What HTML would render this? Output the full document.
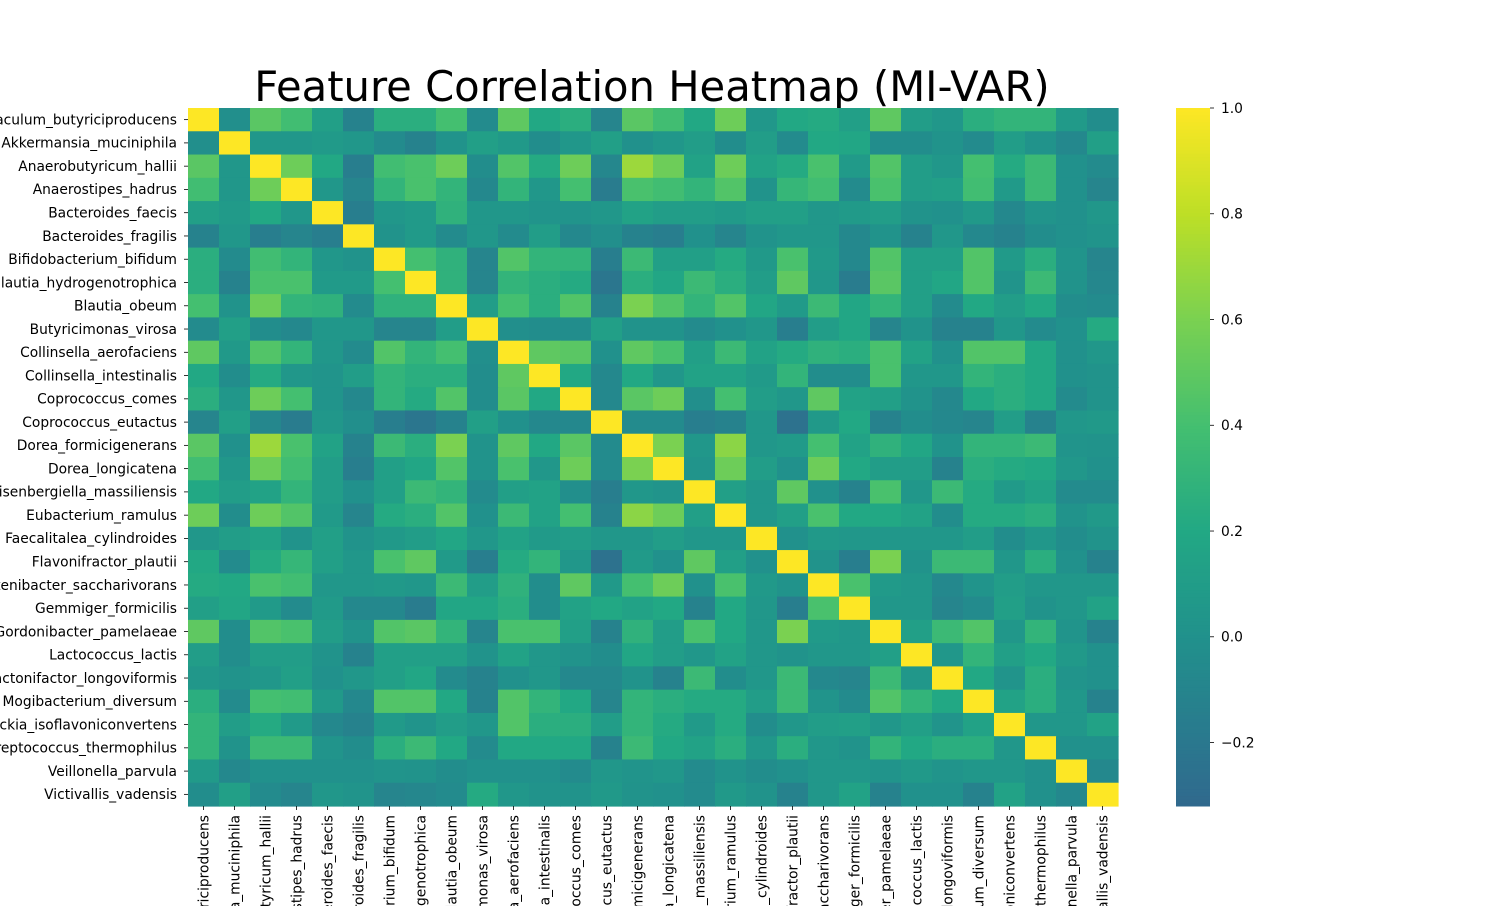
<!DOCTYPE html>
<html><head><meta charset="utf-8"><style>
html,body{margin:0;padding:0;background:#fff;width:1500px;height:906px;overflow:hidden;}
svg{display:block;font-family:"DejaVu Sans","Liberation Sans",sans-serif;}
</style></head><body>
<svg id="chart" width="1500" height="906" viewBox="0 0 1500 906" xmlns="http://www.w3.org/2000/svg" overflow="hidden">
<text x="652" y="101" font-size="41.7" text-anchor="middle" fill="#000">Feature Correlation Heatmap (MI-VAR)</text>
<g id="cells"></g>
<g id="ylabels"></g>
<g id="xlabels"></g>
<g id="cbar"></g>
</svg>
<script>
const features = ["Agathobaculum_butyriciproducens","Akkermansia_muciniphila","Anaerobutyricum_hallii","Anaerostipes_hadrus","Bacteroides_faecis","Bacteroides_fragilis","Bifidobacterium_bifidum","Blautia_hydrogenotrophica","Blautia_obeum","Butyricimonas_virosa","Collinsella_aerofaciens","Collinsella_intestinalis","Coprococcus_comes","Coprococcus_eutactus","Dorea_formicigenerans","Dorea_longicatena","Eisenbergiella_massiliensis","Eubacterium_ramulus","Faecalitalea_cylindroides","Flavonifractor_plautii","Fusicatenibacter_saccharivorans","Gemmiger_formicilis","Gordonibacter_pamelaeae","Lactococcus_lactis","Lactonifactor_longoviformis","Mogibacterium_diversum","Slackia_isoflavoniconvertens","Streptococcus_thermophilus","Veillonella_parvula","Victivallis_vadensis"];
// lower-triangle correlation values (row i, columns 0..i-1); diagonal = 1
const lowerTriangle = [
[],
[-0.02],
[0.48,0.05],
[0.38,0.05,0.55],
[0.12,0.08,0.2,0.05],
[-0.12,0.05,-0.15,-0.1,-0.15],
[0.25,-0.05,0.38,0.3,0.05,0.02],
[0.25,-0.12,0.42,0.42,0.08,0.08,0.4],
[0.4,0.02,0.55,0.3,0.28,-0.05,0.28,0.28],
[-0.05,0.12,-0.03,-0.07,0.05,0.05,-0.1,-0.1,0.1],
[0.5,0.07,0.45,0.3,0.05,-0.05,0.45,0.3,0.4,-0.02],
[0.2,-0.03,0.22,0.05,0.03,0.1,0.3,0.25,0.25,-0.03,0.5],
[0.25,0.05,0.55,0.4,0.03,-0.07,0.3,0.22,0.45,-0.03,0.48,0.2],
[-0.1,0.12,-0.08,-0.17,0.05,-0.02,-0.15,-0.22,-0.12,0.12,0.0,-0.07,-0.07],
[0.48,0.0,0.7,0.42,0.15,-0.12,0.35,0.25,0.6,0.02,0.5,0.2,0.48,-0.05],
[0.38,0.05,0.55,0.38,0.1,-0.15,0.12,0.18,0.45,0.02,0.42,0.05,0.55,-0.05,0.6],
[0.2,0.1,0.15,0.3,0.1,0.0,0.12,0.35,0.3,-0.05,0.12,0.15,-0.02,-0.15,0.05,0.03],
[0.55,-0.03,0.55,0.45,0.08,-0.1,0.22,0.25,0.45,0.0,0.35,0.15,0.4,-0.12,0.65,0.55,0.12],
[0.05,0.1,0.15,0.02,0.12,0.02,0.07,0.1,0.18,0.05,0.15,0.08,0.1,0.05,0.05,0.1,0.05,0.05],
[0.2,-0.05,0.22,0.32,0.12,0.05,0.42,0.5,0.08,-0.15,0.22,0.3,0.05,-0.25,0.08,0.0,0.5,0.12,0.0],
[0.22,0.2,0.42,0.38,0.05,0.05,0.07,0.05,0.35,0.1,0.28,-0.03,0.5,0.07,0.4,0.55,0.0,0.42,0.07,0.02],
[0.12,0.18,0.08,-0.05,0.08,-0.07,-0.07,-0.17,0.18,0.18,0.25,-0.03,0.15,0.2,0.15,0.2,-0.12,0.2,0.05,-0.15,0.42],
[0.5,-0.03,0.45,0.42,0.1,0.02,0.45,0.48,0.3,-0.1,0.42,0.42,0.12,-0.12,0.28,0.1,0.42,0.2,0.05,0.6,0.08,0.05],
[0.1,-0.03,0.1,0.1,0.02,-0.12,0.12,0.12,0.12,0.02,0.15,0.05,0.02,-0.03,0.18,0.1,0.05,0.15,0.05,0.02,0.05,0.05,0.12],
[0.05,0.02,0.05,0.12,0.0,0.05,0.12,0.18,-0.05,-0.12,0.0,0.05,-0.07,-0.07,0.02,-0.12,0.35,-0.03,0.05,0.35,-0.07,-0.1,0.35,0.05],
[0.25,-0.05,0.4,0.38,0.07,-0.07,0.45,0.45,0.2,-0.12,0.45,0.3,0.2,-0.1,0.3,0.25,0.22,0.22,0.1,0.35,0.03,-0.05,0.45,0.3,0.2],
[0.3,0.1,0.22,0.08,-0.07,-0.12,0.08,0.03,0.1,0.05,0.45,0.25,0.25,0.1,0.3,0.22,0.08,0.22,-0.03,0.05,0.1,0.12,0.05,0.12,0.03,0.15],
[0.3,0.02,0.35,0.35,0.03,-0.03,0.25,0.35,0.2,-0.05,0.2,0.2,0.2,-0.12,0.35,0.2,0.15,0.25,0.05,0.25,0.05,0.02,0.3,0.2,0.25,0.25,0.05],
[0.08,-0.07,0.0,0.0,0.0,0.0,0.03,0.02,-0.03,0.0,0.0,0.0,-0.05,0.05,0.03,0.05,-0.05,0.02,-0.03,0.0,0.05,0.05,0.03,0.07,0.03,0.05,0.05,0.0],
[-0.03,0.12,-0.05,-0.1,0.05,0.03,-0.1,-0.08,-0.05,0.22,0.05,0.02,0.02,0.07,0.02,0.0,-0.05,0.07,0.02,-0.12,0.05,0.15,-0.12,0.0,0.0,-0.12,0.15,0.0,-0.07]
];
const colorbarTicks = [1.0,0.8,0.6,0.4,0.2,0.0,-0.2];
const colorbarTickLabels = ["1.0","0.8","0.6","0.4","0.2","0.0","\u22120.2"];
const colorbarMin = -0.32, colorbarMax = 1.0;

const NS="http://www.w3.org/2000/svg";
const X0=188,Y0=108,W=930,H=698,N=features.length;
const cw=W/N, ch=H/N;
const xPos=j=>X0+j*cw, yPos=i=>Y0+i*ch;
const stops=["#440154","#482475","#414487","#355f8d","#2a788e","#21918c","#22a884","#44bf70","#7ad151","#bddf26","#fde725"];
function hex(h){return [1,3,5].map(k=>parseInt(h.substr(k,2),16));}
function viridis(v){let t=Math.max(0,Math.min(1,(v+1)/2))*10;let k=Math.min(9,Math.floor(t));let f=t-k;let a=hex(stops[k]),b=hex(stops[k+1]);return "rgb("+a.map((x,i)=>Math.round(x+(b[i]-x)*f)).join(",")+")";}
function val(i,j){if(i===j)return 1;return i>j?lowerTriangle[i][j]:lowerTriangle[j][i];}
function mk(tag,attrs,parent){const e=document.createElementNS(NS,tag);for(const k in attrs)e.setAttribute(k,attrs[k]);parent.appendChild(e);return e;}

const cells=document.getElementById('cells');
for(let i=0;i<N;i++)for(let j=0;j<N;j++){
  const r=mk('rect',{x:xPos(j),y:yPos(i),width:cw+0.6,height:ch+0.6,fill:viridis(val(i,j))},cells);
  
  
}
const yl=document.getElementById('ylabels'), xl=document.getElementById('xlabels');
features.forEach((f,i)=>{
  const cy=yPos(i)+ch/2;
  mk('line',{x1:184,x2:188,y1:cy,y2:cy,stroke:'#000','stroke-width':0.8},yl);
  const t=mk('text',{x:177,y:cy+4.8,'font-size':13.8,'text-anchor':'end',fill:'#000'},yl);
  t.textContent=f;
  
  
  const cx=xPos(i)+cw/2;
  mk('line',{x1:cx,x2:cx,y1:806,y2:810,stroke:'#000','stroke-width':0.8},xl);
  const tx=mk('text',{x:0,y:0,'font-size':13.8,'text-anchor':'end',fill:'#000',transform:`translate(${cx+4.8},815) rotate(-90)`},xl);
  tx.textContent=f;
  
  
});
const cb=document.getElementById('cbar');
const CBX=1176,CBW=34,CBT=108,CBB=806;
const cbY=v=>CBB-(v-colorbarMin)/(colorbarMax-colorbarMin)*(CBB-CBT);
for(let p=0;p<200;p++){
  const v0=colorbarMin+(colorbarMax-colorbarMin)*p/200, v1=colorbarMin+(colorbarMax-colorbarMin)*(p+1)/200;
  mk('rect',{x:CBX,y:cbY(v1),width:CBW,height:cbY(v0)-cbY(v1)+0.5,fill:viridis((v0+v1)/2)},cb);
}
colorbarTicks.forEach((v,k)=>{
  const y=cbY(v);
  mk('line',{x1:CBX+CBW,x2:CBX+CBW+4,y1:y,y2:y,stroke:'#000','stroke-width':0.8},cb);
  const t=mk('text',{x:CBX+CBW+11,y:y+4.8,'font-size':13.8,fill:'#000'},cb);
  t.textContent=colorbarTickLabels[k];
  
  
});
</script>
</body></html>
